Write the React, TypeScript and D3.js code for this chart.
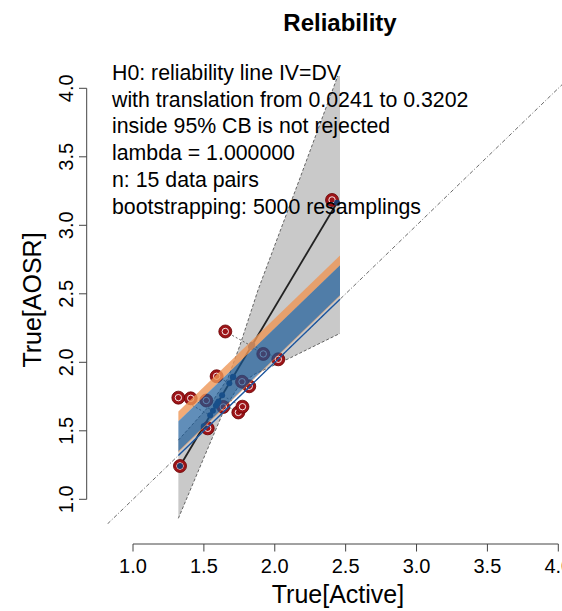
import * as d3 from "d3";

// data pairs
const activeVals = [1.32, 1.407, 1.59, 1.651, 1.527, 1.3315, 1.743, 1.772, 1.82, 2.025, 2.404, 1.517, 1.637, 1.769, 1.919];
const aosrVals = [1.742, 1.737, 1.898, 2.225, 1.518, 1.243, 1.634, 1.676, 1.825, 2.022, 3.185, 1.721, 1.674, 1.858, 2.061];

// regression line (Deming, lambda = 1)
const regIntercept = -1.067;
const regSlope = 1.735;

// x range of the bands
const bandX = [1.32, 2.46];
// translated reliability lines y = x + t
const orangeShift = [0.0241, 0.3202];
const blueShift = [0.03, 0.249];

// bootstrap confidence band outline
const cbUpperX = [1.32, 1.543, 1.67, 1.755, 1.882, 2.178, 2.46];
const cbUpperY = [1.432, 1.688, 1.885, 2.126, 2.528, 3.345, 4.134];
const cbLowerX = [1.32, 1.508, 1.649, 1.755, 1.861, 2.107, 2.46];
const cbLowerY = [0.861, 1.323, 1.667, 1.842, 1.915, 2.031, 2.211];

const tickVals = [1.0, 1.5, 2.0, 2.5, 3.0, 3.5, 4.0];
const plotXLim = [0.8, 4.09];
const plotYLim = [0.82, 4.09];

const infoLines = [
  "H0: reliability line IV=DV",
  "with translation from 0.0241 to 0.3202",
  "inside 95% CB is not rejected",
  "lambda = 1.000000",
  "n: 15 data pairs",
  "bootstrapping: 5000 resamplings",
];

const font = "'Liberation Sans', Arial, sans-serif";

export default function App() {
  const width = 562, height = 611;

  const x = d3.scaleLinear().domain([1, 4]).range([133, 558.3]);
  const y = d3.scaleLinear().domain([1, 4]).range([499.3, 88.3]);

  const pts = activeVals.map((a, i) => ({ a, b: aosrVals[i] }));

  // orthogonal projection of every point on the regression line
  const den = 1 + regSlope * regSlope;
  const proj = pts.map(p => {
    const t = (p.a + regSlope * (p.b - regIntercept)) / den;
    return { a: t, b: regIntercept + regSlope * t };
  });
  const tMin = d3.min(proj, d => d.a);
  const tMax = d3.max(proj, d => d.a);

  const line = d3.line<[number, number]>().x(d => x(d[0])).y(d => y(d[1]));

  const upper = cbUpperX.map((v, i) => [v, cbUpperY[i]] as [number, number]);
  const lower = cbLowerX.map((v, i) => [v, cbLowerY[i]] as [number, number]);
  const cbPoly = [...upper, ...lower.slice().reverse()];

  // polygon between y = x + s0 and y = x + s1 over bandX
  const shiftBand = (s0: number, s1: number) => [
    [bandX[0], bandX[0] + s0], [bandX[1], bandX[1] + s0],
    [bandX[1], bandX[1] + s1], [bandX[0], bandX[0] + s1],
  ] as [number, number][];

  const px0 = x(plotXLim[0]), px1 = x(plotXLim[1]);
  const py0 = y(plotYLim[1]), py1 = y(plotYLim[0]);
  const idLo = Math.max(plotXLim[0], plotYLim[0]);
  const idHi = Math.min(plotXLim[1], plotYLim[1]);

  return (
    <svg width={width} height={height} style={{ position: "absolute", left: 0, top: 0, background: "#fff" }} fontFamily={font}>
      <defs>
        <clipPath id="plotClip">
          <rect x={px0} y={py0} width={px1 - px0} height={py1 - py0} />
        </clipPath>
      </defs>

      <text x={340} y={31} textAnchor="middle" fontWeight="bold" fontSize={24}>Reliability</text>

      <g clipPath="url(#plotClip)">
        <path d={line(cbPoly) + "Z"} fill="#c9c9c9" stroke="none" />
        <path d={line(upper)!} fill="none" stroke="#555" strokeWidth={0.9} strokeDasharray="3,2" />
        <path d={line(lower)!} fill="none" stroke="#555" strokeWidth={0.9} strokeDasharray="3,2" />

        <path d={line([[idLo, idLo], [idHi, idHi]])!} stroke="#444" strokeWidth={0.8} strokeDasharray="4,2,1,2" fill="none" />

        <path d={line([[tMin, regIntercept + regSlope * tMin], [tMax, regIntercept + regSlope * tMax]])!}
          stroke="#222" strokeWidth={1.8} fill="none" />

        {pts.map((p, i) => (
          <path key={"d" + i} d={line([[p.a, p.b], [proj[i].a, proj[i].b]])!}
            stroke="#555" strokeWidth={0.9} strokeDasharray="2,2" fill="none" />
        ))}

        {pts.map((p, i) => (
          <g key={"p" + i}>
            <circle cx={x(p.a)} cy={y(p.b)} r={6.5} fill="#9c1418" stroke="#6a0000" strokeWidth={0.8} />
            <circle cx={x(p.a)} cy={y(p.b)} r={3.2} fill="none" stroke="#fff" strokeWidth={0.9} />
          </g>
        ))}

        {proj.map((p, i) => (
          <circle key={"q" + i} cx={x(p.a)} cy={y(p.b)} r={3} fill="#1e3c6e" />
        ))}

        <path d={line(shiftBand(blueShift[1], orangeShift[1])) + "Z"} fill="rgb(238,150,86)" fillOpacity={0.8} />
        <path d={line(shiftBand(orangeShift[0], blueShift[0])) + "Z"} fill="rgb(238,150,86)" fillOpacity={0.8} />
        <path d={line(shiftBand(blueShift[0], blueShift[1])) + "Z"} fill="rgb(22,88,152)" fillOpacity={0.68} />

        <path d={line([[bandX[0], bandX[0]], [bandX[1], bandX[1]]])!} stroke="#1a55a0" strokeWidth={1.4} fill="none" />
      </g>

      {infoLines.map((t, i) => (
        <text key={t} x={112} y={80 + i * 26.7} fontSize={21.3} fill="#000">{t}</text>
      ))}

      {/* x axis */}
      <g stroke="#444" strokeWidth={1}>
        <line x1={x(1)} x2={x(4)} y1={544} y2={544} />
        {tickVals.map(v => <line key={v} x1={x(v)} x2={x(v)} y1={544} y2={551.5} />)}
      </g>
      {tickVals.map(v => (
        <text key={v} x={x(v)} y={573} textAnchor="middle" fontSize={20}>{v.toFixed(1)}</text>
      ))}
      <text x={338} y={603} textAnchor="middle" fontSize={25}>True[Active]</text>

      {/* y axis */}
      <g stroke="#444" strokeWidth={1}>
        <line x1={86.7} x2={86.7} y1={y(1)} y2={y(4)} />
        {tickVals.map(v => <line key={v} x1={79} x2={86.7} y1={y(v)} y2={y(v)} />)}
      </g>
      {tickVals.map(v => (
        <text key={v} transform={`translate(73,${y(v)}) rotate(-90)`} textAnchor="middle" fontSize={20}>{v.toFixed(1)}</text>
      ))}
      <text transform={`translate(41,300) rotate(-90)`} textAnchor="middle" fontSize={25}>True[AOSR]</text>
    </svg>
  );
}
